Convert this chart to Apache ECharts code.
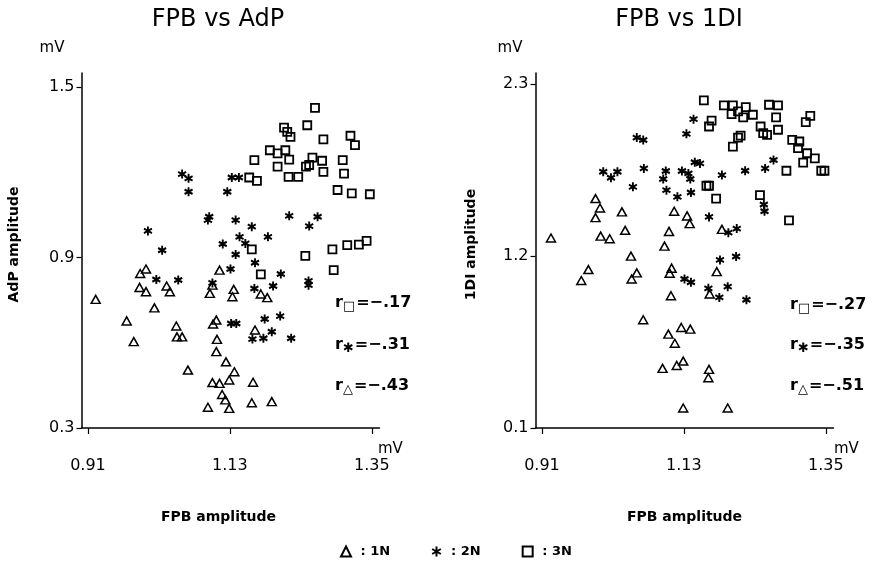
<!DOCTYPE html>
<html>
<head>
<meta charset="utf-8">
<script src="https://cdn.jsdelivr.net/npm/echarts@6/dist/echarts.min.js"></script>
<style>
  html, body { margin: 0; padding: 0; background: #fff; }
  #main { width: 879px; height: 564px; }
</style>
</head>
<body>
<div id="main"></div>
<script>
// FPB amplitude (x) against AdP / 1DI amplitude (y), mV
var xTicks = [0.91, 1.13, 1.35];
var adpTicks = [0.3, 0.9, 1.5];
var diTicks = [0.1, 1.2, 2.3];
var groups = ['1N', '2N', '3N'];

var adp1N = [[0.922,0.753],[0.991,0.844],[1.000,0.860],[0.990,0.795],[1.000,0.780],[1.032,0.800],[1.037,0.780],
  [1.013,0.723],[0.970,0.677],[0.981,0.604],[1.047,0.659],[1.048,0.621],[1.056,0.621],[1.065,0.504],[1.114,0.856],
  [1.103,0.803],[1.099,0.774],[1.136,0.788],[1.134,0.762],[1.178,0.772],[1.188,0.759],[1.109,0.680],[1.104,0.666],
  [1.110,0.612],[1.109,0.569],[1.124,0.533],[1.137,0.498],[1.169,0.645],[1.103,0.460],[1.114,0.457],[1.129,0.469],
  [1.118,0.418],[1.123,0.399],[1.096,0.373],[1.129,0.369],[1.166,0.461],[1.164,0.389],[1.195,0.393]];
var adp2N = [[1.056,1.194],[1.066,1.179],[1.066,1.132],[1.133,1.182],[1.144,1.182],[1.126,1.132],[1.098,1.044],
  [1.096,1.032],[1.139,1.032],[1.164,1.009],[1.222,1.047],[1.266,1.044],[1.253,1.011],[1.003,0.994],[1.025,0.926],
  [1.119,0.948],[1.145,0.973],[1.154,0.950],[1.189,0.973],[1.139,0.911],[1.169,0.882],[1.131,0.860],[1.016,0.823],
  [1.050,0.821],[1.103,0.811],[1.209,0.842],[1.197,0.800],[1.168,0.791],[1.252,0.818],[1.252,0.803],[1.132,0.668],
  [1.140,0.668],[1.184,0.684],[1.208,0.694],[1.195,0.639],[1.165,0.613],[1.182,0.616],[1.225,0.616]];
var adp3N = [[1.262,1.427],[1.214,1.358],[1.219,1.343],[1.224,1.325],[1.250,1.366],[1.275,1.316],[1.317,1.329],
  [1.324,1.296],[1.192,1.278],[1.204,1.267],[1.216,1.278],[1.222,1.245],[1.168,1.243],[1.204,1.220],[1.258,1.252],
  [1.273,1.241],[1.253,1.226],[1.248,1.220],[1.305,1.243],[1.307,1.196],[1.275,1.202],[1.221,1.184],[1.236,1.184],
  [1.160,1.182],[1.172,1.170],[1.297,1.138],[1.319,1.126],[1.347,1.123],[1.289,0.929],[1.312,0.944],[1.330,0.946],
  [1.342,0.959],[1.164,0.929],[1.247,0.906],[1.178,0.841],[1.291,0.856]];

var di1N = [[0.924,1.315],[0.993,1.567],[1.000,1.507],[0.993,1.445],[1.034,1.482],[1.001,1.327],[1.015,1.310],
  [1.039,1.364],[1.048,1.199],[0.982,1.113],[0.971,1.043],[1.057,1.092],[1.049,1.053],[1.115,1.486],[1.135,1.456],
  [1.139,1.407],[1.107,1.357],[1.100,1.263],[1.111,1.122],[1.108,1.090],[1.110,0.946],[1.189,1.370],[1.181,1.100],
  [1.170,0.957],[1.067,0.792],[1.106,0.700],[1.116,0.642],[1.126,0.743],[1.140,0.732],[1.097,0.481],[1.119,0.500],
  [1.129,0.528],[1.169,0.475],[1.168,0.421],[1.129,0.228],[1.198,0.228]];
var di2N = [[1.145,2.075],[1.134,1.981],[1.057,1.957],[1.067,1.942],[1.147,1.799],[1.155,1.792],[1.068,1.760],
  [1.102,1.743],[1.127,1.743],[1.137,1.728],[1.140,1.692],[1.098,1.692],[1.005,1.739],[1.017,1.700],[1.027,1.739],
  [1.051,1.642],[1.103,1.621],[1.120,1.578],[1.141,1.606],[1.189,1.717],[1.225,1.745],[1.256,1.760],[1.269,1.814],
  [1.254,1.529],[1.255,1.486],[1.169,1.450],[1.199,1.349],[1.212,1.375],[1.186,1.175],[1.211,1.197],[1.131,1.053],
  [1.141,1.032],[1.168,0.993],[1.185,0.935],[1.198,1.004],[1.227,0.920]];
var di3N = [[1.161,2.195],[1.192,2.163],[1.206,2.163],[1.204,2.107],[1.214,2.124],[1.226,2.152],[1.222,2.086],
  [1.237,2.103],[1.173,2.066],[1.169,2.028],[1.262,2.167],[1.276,2.163],[1.273,2.086],[1.276,2.007],[1.249,2.028],
  [1.253,1.985],[1.259,1.974],[1.218,1.970],[1.214,1.957],[1.206,1.899],[1.298,1.942],[1.309,1.932],[1.307,1.889],
  [1.321,1.857],[1.333,1.824],[1.315,1.797],[1.319,2.056],[1.326,2.096],[1.289,1.745],[1.343,1.745],[1.348,1.745],
  [1.165,1.649],[1.169,1.649],[1.180,1.567],[1.248,1.589],[1.293,1.428]];

var adpR = ['−.17', '−.31', '−.43'];
var diR = ['−.27', '−.35', '−.51'];

var starPath = 'path://M0,-5L0,5M-4.33,-2.5L4.33,2.5M-4.33,2.5L4.33,-2.5';
var symbols = {
  '1N': { symbol: 'triangle', size: [9, 8], bw: 1.5 },
  '2N': { symbol: starPath, size: [8, 9], bw: 2 },
  '3N': { symbol: 'rect', size: [8, 8], bw: 1.8 }
};
var subMarks = ['□', '✱', '△'];

var nameFont = { color: '#000', fontFamily: 'DejaVu Sans', fontSize: 14, fontWeight: 'bold' };

function xAxisFor(idx, namePad) {
  return {
    type: 'value', gridIndex: idx, min: 0.9, max: 1.362,
    name: 'FPB amplitude', nameLocation: 'middle', nameGap: 82,
    nameTextStyle: Object.assign({ padding: namePad }, nameFont),
    axisLine: { lineStyle: { color: '#000', width: 1.5 } },
    axisTick: { show: true, length: 6, customValues: xTicks, lineStyle: { color: '#000', width: 1.2 } },
    axisLabel: { customValues: xTicks, margin: 30, color: '#000', fontFamily: 'DejaVu Sans', fontSize: 16 },
    splitLine: { show: false }
  };
}
function yAxisFor(idx, min, max, ticks, name, gap) {
  return {
    type: 'value', gridIndex: idx, min: min, max: max,
    name: name, nameLocation: 'middle', nameRotate: 90, nameGap: gap,
    nameTextStyle: Object.assign({ padding: [0, 0, 0, 12] }, nameFont),
    axisLine: { show: true, lineStyle: { color: '#000', width: 1.5 } },
    axisTick: { show: true, length: 5, customValues: ticks, lineStyle: { color: '#000', width: 1.2 } },
    axisLabel: { customValues: ticks, margin: 7, color: '#000', fontFamily: 'DejaVu Sans', fontSize: 16 },
    splitLine: { show: false }
  };
}
function scatter(name, data, idx) {
  var s = symbols[name];
  return {
    type: 'scatter', name: name, data: data, xAxisIndex: idx, yAxisIndex: idx,
    symbol: s.symbol, symbolSize: s.size,
    itemStyle: { color: 'rgba(0,0,0,0)', borderColor: '#000', borderWidth: s.bw, opacity: 1 },
    emphasis: { disabled: true }
  };
}
function rLabels(x, ys, vals) {
  return vals.map(function (v, i) {
    return {
      type: 'text', x: x, y: ys[i],
      style: {
        text: '{r|r}{s|' + subMarks[i] + '}{e|=' + v + '}',
        rich: {
          r: { fontFamily: 'DejaVu Sans', fontSize: 16, fontWeight: 'bold', fill: '#000', padding: [0, 0, 4, 0] },
          s: { fontFamily: 'DejaVu Sans', fontSize: 13, fontWeight: 'bold', fill: '#000', padding: [4, 1, 0, 0] },
          e: { fontFamily: 'DejaVu Sans', fontSize: 16, fontWeight: 'bold', fill: '#000', padding: [0, 0, 4, 0] }
        },
        verticalAlign: 'middle'
      }
    };
  });
}
function plainText(txt, x, y, align, size, weight) {
  return {
    type: 'text', x: x, y: y,
    style: { text: txt, fill: '#000', fontFamily: 'DejaVu Sans', fontSize: size, fontWeight: weight || 'normal', align: align, verticalAlign: 'middle' }
  };
}

var myChart = echarts.init(document.getElementById('main'));
var option = {
  animation: false,
  backgroundColor: '#fff',
  grid: [
    { left: 81.5, top: 73, width: 298, height: 355 },
    { left: 535.5, top: 73, width: 298, height: 355 }
  ],
  xAxis: [xAxisFor(0, [0, 24, 0, 0]), xAxisFor(1, [0, 0, 0, 0])],
  yAxis: [
    yAxisFor(0, 0.3, 1.55, adpTicks, 'AdP amplitude', 60),
    yAxisFor(1, 0.1, 2.37, diTicks, '1DI amplitude', 57)
  ],
  legend: {
    data: groups, top: 540, left: 335, itemWidth: 10, itemHeight: 10, itemGap: 41,
    formatter: function (n) { return ' : ' + n; },
    textStyle: { color: '#000', fontFamily: 'DejaVu Sans', fontSize: 13, fontWeight: 'bold' }
  },
  series: [
    scatter('1N', adp1N, 0), scatter('2N', adp2N, 0), scatter('3N', adp3N, 0),
    scatter('1N', di1N, 1), scatter('2N', di2N, 1), scatter('3N', di3N, 1)
  ],
  graphic: [
    plainText('FPB vs AdP', 218, 20, 'center', 24),
    plainText('FPB vs 1DI', 679, 20, 'center', 24),
    plainText('mV', 52, 48, 'center', 15),
    plainText('mV', 510, 48, 'center', 15),
    plainText('mV', 378, 449, 'left', 15),
    plainText('mV', 834, 449, 'left', 15)
  ].concat(rLabels(335, [305, 347, 388], adpR)).concat(rLabels(790, [307, 347, 388], diR))
};
myChart.setOption(option);
</script>
</body>
</html>
